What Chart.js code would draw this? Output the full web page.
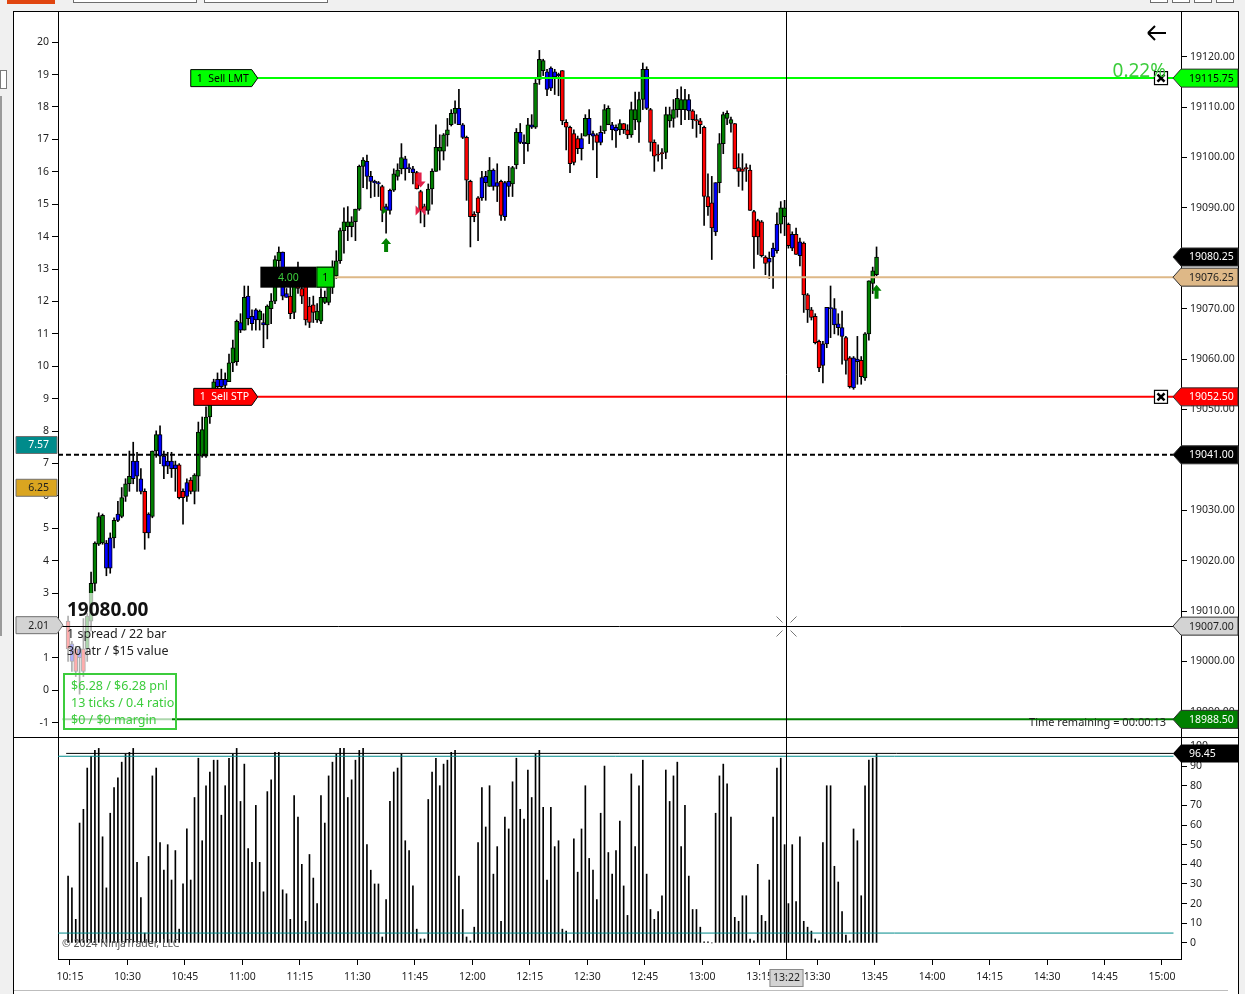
<!DOCTYPE html>
<html>
<head>
<meta charset="utf-8">
<title>NQ 1 spread / 22 bar</title>
<script src="https://cdn.jsdelivr.net/npm/chart.js@4.4.1/dist/chart.umd.min.js"></script>
<style>
  html, body { margin: 0; padding: 0; background: #f0f0f0; }
  #wrap { position: relative; width: 1245px; height: 994px; overflow: hidden; background: #f0f0f0; }
  #panel { position: absolute; left: 13px; top: 11px; width: 1224px; height: 990px; background: #fff; border: 1px solid #000; }
  #split { position: absolute; left: 14px; top: 737px; width: 1224px; height: 1px; background: #000; }
  #scroll { position: absolute; left: 14px; top: 990px; width: 1214px; height: 1px; background: #bdbdbd; }
  .tb { position: absolute; top: -3px; height: 4px; border: 1px solid #6d6d6d; background: #fff; }
  .side { position: absolute; background: #9a9a9a; }
  canvas { position: absolute; left: 0; top: 0; }
</style>
</head>
<body>
<div id="wrap">
  <div style="position:absolute;left:7px;top:0;width:48px;height:4px;background:#e0450f"></div>
  <div class="tb" style="left:73px;width:122px"></div>
  <div class="tb" style="left:204px;width:122px"></div>
  <div class="tb" style="left:1150px;width:16px"></div>
  <div class="tb" style="left:1172px;width:16px"></div>
  <div class="tb" style="left:1194px;width:16px"></div>
  <div class="tb" style="left:1216px;width:16px"></div>
  <div style="position:absolute;left:0;top:70px;width:5px;height:17px;border:1px solid #7a7a7a;background:#fff"></div>
  <div class="side" style="left:0;top:96px;width:2px;height:540px"></div>
  <div id="panel"></div>
  <div id="split"></div>
  <div id="scroll"></div>
  <canvas id="osc" width="1245" height="994"></canvas>
  <canvas id="price" width="1245" height="994"></canvas>
</div>
<script>
// one bar per minute, first bar at 10:14:30 (minutes after midnight)
const firstBarMinute = 614.5;
const viewStart = 611.87;
const viewEnd = 904.96;

const opens = [
  19008, 19003.5, 19002.5, 19002.5, 19002.5, 19002.5, 19008, 19015.5, 19023.25, 19023.5,
  19023.5, 19024.5, 19024.5, 19029.25, 19028.75, 19032.75, 19035.25, 19039.75, 19039.75, 19036.25,
  19033.75, 19025.5, 19028.75, 19041.75, 19045, 19040.75, 19039.75, 19039.75, 19039, 19039,
  19033.75, 19035.5, 19036, 19033.75, 19036.75, 19040.75, 19040.75, 19048.5, 19052.5, 19056,
  19056, 19056, 19055.5, 19059.25, 19059.5, 19067.25, 19065.75, 19072.5, 19068.5, 19069.75,
  19067.75, 19067.25, 19066.75, 19070, 19071.5, 19079.5, 19081.25, 19073, 19072.5, 19069.25,
  19076, 19074, 19075, 19070.5, 19070.75, 19067.75, 19067.5, 19071.25, 19071.25, 19074.25,
  19076.5, 19079.5, 19085.5, 19086.25, 19086.25, 19087.25, 19089.75, 19098.25, 19099.25, 19096.25,
  19095.25, 19095, 19094.25, 19090.25, 19093.5, 19093.5, 19096.25, 19097.75, 19099.75, 19098,
  19097.75, 19097, 19093.25, 19090.25, 19089.5, 19093.75, 19097.25, 19101.25, 19101.25, 19104.5,
  19106.5, 19108.75, 19109.75, 19106.5, 19104, 19095.25, 19088.75, 19092, 19096, 19096.25,
  19094.25, 19097.5, 19095, 19095.25, 19095, 19095.25, 19094.75, 19098.5, 19105, 19103,
  19102.75, 19106.5, 19106, 19115.5, 19117.25, 19117, 19117.75, 19117, 19116.5, 19117.25,
  19107, 19106, 19104.75, 19103.75, 19103.75, 19104.25, 19107.75, 19104.75, 19104.5, 19105,
  19105.25, 19106.5, 19106.5, 19106, 19105.5, 19106.75, 19105.5, 19104.5, 19107.5, 19107,
  19111.5, 19117.5, 19109.5, 19103, 19100.5, 19100.75, 19101, 19107.25, 19107.75, 19109.5,
  19109.5, 19109.5, 19111.5, 19109.25, 19107.5, 19107.25, 19106, 19092.25, 19091, 19095,
  19095, 19102.75, 19107.75, 19106.75, 19106.75, 19098, 19097.75, 19098, 19097.5, 19089.25,
  19087.5, 19087.25, 19080.25, 19080, 19082, 19086.75, 19086.75, 19088.25, 19086.75, 19084.75,
  19084.75, 19083.25, 19083, 19072.75, 19069.75, 19068.5, 19063.5, 19063, 19070.25, 19070,
  19070, 19067, 19066.25, 19064.25, 19060.25, 19060.25, 19060, 19059.75, 19056.25, 19065,
  19075, 19076.75
];
const highs = [
  19009, 19004, 19003, 19003, 19008.5, 19009.5, 19017.75, 19023.75, 19029.5, 19029.25,
  19024, 19025.5, 19028.5, 19031.75, 19034.5, 19036.25, 19041.75, 19043.5, 19041.5, 19038.25,
  19034.25, 19029.5, 19041.75, 19045.75, 19046.75, 19041.75, 19041.5, 19041.5, 19039.75, 19039.25,
  19034.25, 19036.25, 19036.5, 19037.25, 19047.5, 19048.5, 19050.5, 19053.75, 19056, 19057.25,
  19058, 19057.25, 19061, 19063.75, 19067.75, 19069, 19074.5, 19074.5, 19069.75, 19070,
  19069.75, 19069, 19070.75, 19073, 19080.5, 19082.25, 19081.25, 19074, 19074.25, 19077.25,
  19079.25, 19076, 19075.25, 19072.25, 19072.5, 19071, 19074, 19073.5, 19074.5, 19079.5,
  19081.5, 19086, 19090, 19090.25, 19088.25, 19089.75, 19098.5, 19100, 19100.5, 19097.25,
  19095.5, 19095.25, 19094.5, 19090.75, 19093.75, 19097.75, 19098.75, 19102.75, 19100.25, 19098.75,
  19098.25, 19097.25, 19093.5, 19090.75, 19094.75, 19097.75, 19106.5, 19104.5, 19104.75, 19107.75,
  19109.5, 19111.25, 19113.5, 19106.75, 19104.25, 19095.5, 19089.25, 19092.25, 19097.25, 19097.25,
  19100, 19097.75, 19098.75, 19095.5, 19095.25, 19098.25, 19098.25, 19105.75, 19106.75, 19104.5,
  19107.75, 19108.5, 19115.5, 19121.25, 19119.5, 19117.5, 19118, 19117.5, 19116.75, 19117.25,
  19107.5, 19106.25, 19105.5, 19104.25, 19104.75, 19108.5, 19109.5, 19105.25, 19104.75, 19106.25,
  19110.5, 19110.25, 19107, 19106.5, 19107.5, 19106.75, 19106.5, 19111, 19113, 19113,
  19118.75, 19118, 19109.75, 19103.5, 19102.5, 19101.75, 19110, 19110, 19111.5, 19113.5,
  19114, 19113.5, 19112.5, 19109.5, 19108.5, 19107.75, 19106.25, 19096.75, 19096.25, 19095,
  19104.75, 19109, 19109.25, 19108, 19106.75, 19100.75, 19100.75, 19098.75, 19098.5, 19089.5,
  19087.75, 19087.5, 19080.5, 19081.25, 19083, 19089, 19091.25, 19091.5, 19087, 19085.25,
  19086, 19084, 19083.25, 19073, 19070.25, 19069, 19063.75, 19063.5, 19070.25, 19074.5,
  19072, 19069, 19069.5, 19064.5, 19060.5, 19060.5, 19064.5, 19060.5, 19065.25, 19075.5,
  19078.25, 19082.25
];
const lows = [
  19000, 18998, 18997, 18993.5, 18997, 19000, 19006, 19014, 19023, 19023.25,
  19017, 19017.5, 19022.5, 19027.75, 19028.5, 19031.75, 19033.75, 19035.25, 19033.75, 19033.25,
  19022.25, 19024.5, 19028.5, 19040.5, 19039.25, 19036.25, 19037.25, 19036.5, 19033.75, 19032.25,
  19027.25, 19031.75, 19033.25, 19031.25, 19033.75, 19040.5, 19040.5, 19047.25, 19052, 19053.75,
  19053.75, 19054.25, 19055.5, 19057.5, 19058.75, 19065.25, 19065.75, 19066.75, 19065.75, 19065.75,
  19065.75, 19062.25, 19064, 19067, 19071, 19078.25, 19071.75, 19072.25, 19068, 19068,
  19073, 19071, 19066.75, 19066.25, 19067.25, 19067.25, 19067, 19071, 19070.75, 19073,
  19076, 19079, 19081, 19083.5, 19084.25, 19083.5, 19089.5, 19094, 19093.75, 19092,
  19092.25, 19092.25, 19087.25, 19085, 19088.75, 19093.25, 19095.5, 19096.75, 19095.5, 19097,
  19094.75, 19093.75, 19087, 19086.25, 19088.75, 19090.75, 19097.25, 19097.5, 19099.5, 19102.25,
  19106.25, 19106.75, 19106.5, 19103.75, 19091.5, 19082.25, 19087.25, 19083.5, 19091.5, 19091.5,
  19094.25, 19093.5, 19091.25, 19087.5, 19087.5, 19092.25, 19092.25, 19097.75, 19102.75, 19098.75,
  19101.25, 19105.75, 19105.75, 19114.5, 19116.25, 19112.25, 19113.25, 19112.5, 19112.25, 19106.5,
  19101.5, 19097, 19098.5, 19100.75, 19099.5, 19104.25, 19102.75, 19101.5, 19096, 19102.5,
  19104.75, 19106.5, 19103.5, 19102, 19104.5, 19104.75, 19103.75, 19104, 19105.5, 19103,
  19109.5, 19109.5, 19101.25, 19097.25, 19099.25, 19097.75, 19099.75, 19106, 19106, 19108,
  19106.5, 19107.5, 19107.5, 19105.75, 19104, 19104.75, 19086.5, 19088.5, 19079.75, 19084.5,
  19093, 19100.75, 19106.5, 19105, 19097.75, 19094.25, 19093.5, 19095.25, 19089.5, 19078,
  19080.75, 19080.25, 19076.75, 19076, 19074, 19081, 19085, 19084.5, 19082, 19081.5,
  19080.75, 19078.5, 19069.25, 19067.25, 19067.75, 19063, 19057.5, 19055.25, 19062.25, 19064.25,
  19065, 19064.75, 19059, 19057, 19054.25, 19054, 19055, 19055, 19055.75, 19063.75,
  19073, 19076.5
];
const closes = [
  19002.5, 19000, 18998, 19000.75, 18998, 19009, 19015.5, 19023.5, 19028.75, 19029,
  19018.5, 19018.5, 19028, 19028, 19032.5, 19035.25, 19036.75, 19036.25, 19036.75, 19033.75,
  19025.5, 19029.25, 19041.75, 19045, 19040.75, 19038.75, 19038.75, 19038.25, 19038.25, 19032.5,
  19032.5, 19032.75, 19033.75, 19037, 19045.5, 19046, 19048.5, 19053.5, 19055.5, 19054.5,
  19054.5, 19054.75, 19059.25, 19062.25, 19067.5, 19065.75, 19072.25, 19068, 19067, 19067.75,
  19069.5, 19066.75, 19070.5, 19071.5, 19079.75, 19081.25, 19072.5, 19072.25, 19069, 19076.25,
  19074, 19072.5, 19067.75, 19067.25, 19069.25, 19069.5, 19072.25, 19072.25, 19074.5, 19077.75,
  19079.5, 19085.5, 19087.25, 19087.25, 19087.25, 19089.75, 19098.25, 19099.5, 19096.25, 19095.25,
  19095, 19094.75, 19089.5, 19089.5, 19089.5, 19096.75, 19097.5, 19100, 19097.75, 19097.75,
  19097, 19093.75, 19089.5, 19089.5, 19093.75, 19097.25, 19102, 19102, 19104.5, 19105.5,
  19108.75, 19109.75, 19106.5, 19104, 19095.5, 19088.25, 19088.25, 19089, 19092, 19095,
  19097.5, 19094.25, 19094.25, 19088.5, 19088.25, 19094.25, 19098, 19105, 19103, 19102.75,
  19106.5, 19106, 19114.75, 19119.5, 19119.25, 19113.5, 19113.75, 19116, 19116.25, 19107.25,
  19106, 19098.75, 19099, 19101.75, 19101.75, 19107.75, 19104.5, 19104.25, 19103, 19103,
  19109.5, 19109.75, 19105.5, 19105.25, 19106.75, 19105.5, 19104.5, 19109.5, 19109.5, 19111.5,
  19117.5, 19109.75, 19103, 19100.25, 19100.5, 19100.75, 19108.5, 19108.5, 19109.5, 19111.75,
  19111.5, 19111.5, 19109.25, 19107.5, 19107.25, 19106.5, 19092.25, 19090.25, 19086, 19085.25,
  19102.75, 19108.5, 19108.75, 19107.5, 19097.75, 19097.25, 19097.25, 19097.75, 19089.5, 19084.25,
  19084.25, 19080.5, 19079, 19079.25, 19080.25, 19081.5, 19090, 19090, 19082.5, 19082,
  19080.75, 19080.5, 19072.75, 19069.75, 19068.25, 19063.25, 19058.25, 19058.75, 19063, 19070,
  19066.75, 19066.25, 19064.5, 19059.75, 19054.5, 19054.25, 19059.5, 19056.5, 19065, 19075.5,
  19077.5, 19080.25
];
// bar paint: g = up, r = down, b = neutral/trend bar
const candleTone = (
  'rbrbrg' + 'gggg' + 'bb' + 'g' + 'b' + 'ggg' + 'bbb' + 'r' + 'b' + 'gg' + 'bbbbb' + 'rr' + 'b' + 'r' +
  'gggggg' + 'bbb' + 'ggg' + 'b' + 'g' + 'bbb' + 'g' + 'b' + 'gggg' + 'bb' + 'r' + 'g' + 'rrrrr' +
  'ggggggggggggg' + 'bbbb' + 'r' + 'bb' + 'ggg' + 'bbb' + 'rrr' + 'gggggggg' + 'bb' + 'rrrr' + 'bb' +
  'g' + 'bb' + 'r' + 'bb' + 'gg' + 'bb' + 'g' + 'b' + 'ggg' + 'bbbb' + 'rrrrr' + 'b' + 'g' + 'bb' + 'r' +
  'b' + 'gg' + 'bb' + 'g' + 'rr' + 'gggg' + 'b' + 'rrrr' + 'gggggg' + 'b' + 'rrrrrr' + 'b' + 'gggg' +
  'rrrrrrrrr' + 'bbb' + 'gg' + 'r' + 'b' + 'r' + 'b' + 'rrrrr' + 'bbbbbb' + 'rr' + 'bb' + 'r' + 'gggg'
).split('');

// lower panel oscillator, one value per bar
const oscValues = [
  34, 28, 12, 61, 68, 89, 95, 98, 99, 54,
  28, 66, 79, 84, 92, 96, 97, 99, 41, 23,
  5, 44, 85, 89, 51, 37, 50, 32, 47, 7,
  30, 58, 32, 74, 94, 52, 80, 87, 93, 93,
  65, 80, 94, 96, 99, 72, 91, 48, 41, 70,
  41, 26, 77, 83, 97, 97, 27, 25, 12, 75,
  64, 40, 11, 45, 33, 20, 75, 61, 85, 92,
  96, 99, 99, 74, 83, 93, 98, 99, 50, 37,
  30, 30, 3, 22, 72, 87, 89, 96, 52, 47,
  29, 7, 2, 2, 73, 87, 94, 80, 91, 93,
  97, 98, 34, 17, 3, 1, 8,
  51, 79, 59, 80, 35, 49, 11, 64, 58, 82,
  94, 68, 63, 88, 74, 96, 98, 69, 32, 69,
  49, 52, 7, 6, 1, 53, 36, 58, 80, 43,
  37, 22, 66, 90, 46, 35, 47, 62, 29, 14,
  86, 49, 80, 93, 35, 17, 12, 16, 24, 88,
  72, 85, 92, 49, 70, 34, 17, 17, 8, 0.5,
  0.5, 0, 66, 85, 91, 81, 64, 13, 11, 24,
  24, 2, 1, 40, 14, 11, 32, 64, 89, 94,
  50, 20, 50, 21, 54, 11, 8, 6, 2, 1,
  51, 80, 80, 39, 31, 16, 4, 1, 58, 52,
  24, 80, 93, 94, 96.45
];

// working orders, position and reference levels
const sellLimit = 19115.75;
const sellStop = 19052.50;
const orderMinute = 664;       // order tags end here
const positionAvg = 19076.25;
const positionMinute = 684;
const lastPrice = 19080.25;
const priorLevel = 19041.00;
const sessionLow = 18988.50;
const crossMinute = 802;       // 13:22
const crossPrice = 19007.00;
const crossLevel = 2.01;
const leftMarks = [7.57, 6.25];
const oscLast = 96.45;
const oscBands = [95, 5];
const signals = [
  { bar: 82, price: 19089.5, kind: 'tri' },
  { bar: 83, price: 19084.0, kind: 'up' },
  { bar: 92, price: 19097.0, kind: 'down' },
  { bar: 92, price: 19089.5, kind: 'bow' },
  { bar: 211, price: 19074.75, kind: 'up' }
];

const FONT = "'Noto Sans', 'DejaVu Sans', sans-serif";
Chart.defaults.font.family = FONT;
Chart.defaults.font.size = 10.5;
Chart.defaults.color = '#1e1e1e';

const toneColor = { g: '#008000', r: '#ff0000', b: '#0000ff' };
const barX = i => firstBarMinute + i;
const hhmm = v => { const m = Math.round(v); return Math.floor(m / 60) + ':' + String(m % 60).padStart(2, '0'); };

const wickData = highs.map((h, i) => ({ x: barX(i), y: [lows[i], h] }));
const bodyData = opens.map((o, i) => ({ x: barX(i), y: [o, closes[i]] }));
const bodyFill = candleTone.map(c => toneColor[c]);
const oscData = oscValues.map((v, i) => ({ x: barX(i), y: v }));

function sideAxis(pos, min, max, step, fmt) {
  return {
    type: 'linear', position: pos, min, max, offset: false,
    afterFit: s => { s.width = pos === 'left' ? 44 : 57; },
    border: { display: true, color: '#000', width: 1 },
    grid: { drawOnChartArea: false, tickLength: 6, color: '#000' },
    ticks: { stepSize: step, includeBounds: false, maxTicksLimit: 200, autoSkip: false, padding: 3, callback: fmt }
  };
}

function hLine(x0, x1, y, color, width, dash) {
  return {
    type: 'line', data: [{ x: x0, y }, { x: x1, y }], borderColor: color, borderWidth: width,
    borderDash: dash || [], pointRadius: 0, fill: false, yAxisID: 'price', order: 0
  };
}

function tagRight(ctx, area, y, text, fill, ink) {
  const r = area.right;
  ctx.beginPath();
  ctx.moveTo(r - 8, y); ctx.lineTo(r, y - 9); ctx.lineTo(r + 57, y - 9);
  ctx.lineTo(r + 57, y + 9); ctx.lineTo(r, y + 9); ctx.closePath();
  ctx.fillStyle = fill; ctx.fill();
  ctx.strokeStyle = '#303030'; ctx.lineWidth = 1; ctx.stroke();
  ctx.fillStyle = ink; ctx.font = '10.5px ' + FONT;
  ctx.textAlign = 'left'; ctx.textBaseline = 'middle';
  ctx.fillText(text, r + 8, y + 0.5);
}

function tagLeft(ctx, area, y, text, fill, ink, pointer) {
  const l = area.left;
  ctx.beginPath();
  ctx.moveTo(16, y - 8.5); ctx.lineTo(l - 1, y - 8.5);
  if (pointer) ctx.lineTo(l + 5, y);
  ctx.lineTo(l - 1, y + 8.5); ctx.lineTo(16, y + 8.5); ctx.closePath();
  ctx.fillStyle = fill; ctx.fill();
  ctx.strokeStyle = '#707070'; ctx.lineWidth = 1; ctx.stroke();
  ctx.fillStyle = ink; ctx.font = '10.5px ' + FONT;
  ctx.textAlign = 'right'; ctx.textBaseline = 'middle';
  ctx.fillText(text, l - 9, y + 0.5);
}

function closeBox(ctx, x, y) {
  ctx.fillStyle = '#fff'; ctx.fillRect(x, y - 7, 14, 14);
  ctx.strokeStyle = '#000'; ctx.lineWidth = 1.2; ctx.strokeRect(x + 0.5, y - 6.5, 13, 13);
  ctx.lineWidth = 2.6; ctx.beginPath();
  ctx.moveTo(x + 3.5, y - 3.5); ctx.lineTo(x + 10.5, y + 3.5);
  ctx.moveTo(x + 10.5, y - 3.5); ctx.lineTo(x + 3.5, y + 3.5); ctx.stroke();
}

function orderTag(ctx, xEnd, y, w, text, fill, ink) {
  ctx.beginPath();
  ctx.moveTo(xEnd - w, y - 8.5); ctx.lineTo(xEnd - 6, y - 8.5); ctx.lineTo(xEnd, y);
  ctx.lineTo(xEnd - 6, y + 8.5); ctx.lineTo(xEnd - w, y + 8.5); ctx.closePath();
  ctx.fillStyle = fill; ctx.fill();
  ctx.strokeStyle = '#000'; ctx.lineWidth = 1; ctx.stroke();
  ctx.fillStyle = ink; ctx.font = '10.5px ' + FONT;
  ctx.textAlign = 'left'; ctx.textBaseline = 'middle';
  ctx.fillText(text, xEnd - w + 6, y + 0.5);
}

function drawSignal(ctx, kind, x, y) {
  if (kind === 'up') {
    ctx.fillStyle = '#008000';
    ctx.beginPath();
    ctx.moveTo(x, y); ctx.lineTo(x + 5, y + 6); ctx.lineTo(x + 2, y + 6); ctx.lineTo(x + 2, y + 14);
    ctx.lineTo(x - 2, y + 14); ctx.lineTo(x - 2, y + 6); ctx.lineTo(x - 5, y + 6); ctx.closePath(); ctx.fill();
  } else if (kind === 'down') {
    ctx.fillStyle = '#e0204a';
    ctx.beginPath();
    ctx.moveTo(x - 3, y); ctx.lineTo(x + 1, y); ctx.lineTo(x + 1, y + 9); ctx.lineTo(x + 5, y + 9);
    ctx.lineTo(x, y + 15); ctx.lineTo(x - 5, y + 9); ctx.lineTo(x - 3, y + 9); ctx.closePath(); ctx.fill();
  } else if (kind === 'bow') {
    ctx.fillStyle = '#e0204a';
    ctx.beginPath();
    ctx.moveTo(x - 5, y - 5); ctx.lineTo(x, y); ctx.lineTo(x - 5, y + 5); ctx.closePath();
    ctx.moveTo(x + 5, y - 5); ctx.lineTo(x, y); ctx.lineTo(x + 5, y + 5); ctx.closePath(); ctx.fill();
  } else {
    ctx.fillStyle = '#008000';
    ctx.beginPath();
    ctx.moveTo(x, y - 4); ctx.lineTo(x + 5, y); ctx.lineTo(x, y + 4); ctx.closePath(); ctx.fill();
  }
}

const priceDecor = {
  id: 'priceDecor',
  afterDraw(chart) {
    const { ctx, chartArea: a, scales } = chart;
    const px = m => scales.x.getPixelForValue(m);
    const py = p => scales.price.getPixelForValue(p);
    const pl = v => scales.level.getPixelForValue(v);
    ctx.save();

    signals.forEach(s => drawSignal(ctx, s.kind, px(barX(s.bar)), py(s.price)));

    // info panel washes out what sits beneath it
    ctx.fillStyle = 'rgba(255,255,255,0.68)';
    ctx.fillRect(a.left + 4, 593, 110, a.bottom - 595);

    // order and position tags
    const xo = px(orderMinute);
    orderTag(ctx, xo, py(sellLimit), 67, '1  Sell LMT', '#00ff00', '#000');
    orderTag(ctx, xo, py(sellStop), 64, '1  Sell STP', '#ff0000', '#fff');
    const xp = px(positionMinute), yp = py(positionAvg);
    ctx.fillStyle = '#000'; ctx.fillRect(xp - 74, yp - 10.5, 56, 21);
    ctx.fillStyle = '#00dd00'; ctx.fillRect(xp - 18, yp - 10.5, 18, 21);
    ctx.strokeStyle = '#000'; ctx.lineWidth = 1; ctx.strokeRect(xp - 17.5, yp - 10, 17, 20);
    ctx.font = '10.5px ' + FONT; ctx.textAlign = 'center'; ctx.textBaseline = 'middle';
    ctx.fillStyle = '#3ccc3c'; ctx.fillText('4.00', xp - 46, yp + 0.5);
    ctx.fillStyle = '#000'; ctx.fillText('1', xp - 9, yp + 0.5);

    // info text
    ctx.textAlign = 'left'; ctx.textBaseline = 'alphabetic';
    ctx.fillStyle = '#111'; ctx.font = 'bold 19px ' + FONT;
    ctx.fillText('19080.00', 67, 616);
    ctx.font = '12.5px ' + FONT; ctx.fillStyle = '#222';
    ctx.fillText('1 spread / 22 bar', 67, 638);
    ctx.fillText('30 atr / $15 value', 67, 655);
    ctx.strokeStyle = '#3ccc3c'; ctx.lineWidth = 2; ctx.strokeRect(64, 674, 112, 55);
    ctx.fillStyle = '#3ccc3c';
    ctx.fillText('$6.28 / $6.28 pnl', 71, 690);
    ctx.fillText('13 ticks / 0.4 ratio', 71, 707);
    ctx.fillText('$0 / $0 margin', 71, 724);

    // crosshair
    const xc = Math.round(px(crossMinute)) + 0.5, yc = Math.round(py(crossPrice)) + 0.5;
    ctx.strokeStyle = '#000'; ctx.lineWidth = 1;
    ctx.beginPath();
    ctx.moveTo(xc, a.top); ctx.lineTo(xc, a.bottom);
    ctx.moveTo(a.left, yc); ctx.lineTo(a.right, yc);
    ctx.stroke();
    ctx.strokeStyle = '#777';
    ctx.beginPath();
    [[-1, -1], [1, -1], [1, 1], [-1, 1]].forEach(([dx, dy]) => {
      ctx.moveTo(xc + dx * 4, yc + dy * 4); ctx.lineTo(xc + dx * 10, yc + dy * 10);
    });
    ctx.stroke();

    // right side price tags
    closeBox(ctx, a.right - 27, py(sellLimit));
    closeBox(ctx, a.right - 27, py(sellStop));
    tagRight(ctx, a, py(sellLimit), sellLimit.toFixed(2), '#00ff00', '#000');
    tagRight(ctx, a, py(lastPrice), lastPrice.toFixed(2), '#000', '#fff');
    tagRight(ctx, a, py(positionAvg), positionAvg.toFixed(2), '#deb887', '#1e1e1e');
    tagRight(ctx, a, py(sellStop), sellStop.toFixed(2), '#ff0000', '#fff');
    tagRight(ctx, a, py(priorLevel), priorLevel.toFixed(2), '#000', '#fff');
    tagRight(ctx, a, py(crossPrice), crossPrice.toFixed(2), '#d3d3d3', '#1e1e1e');
    tagRight(ctx, a, py(sessionLow), sessionLow.toFixed(2), '#008000', '#fff');

    // left side indicator tags
    tagLeft(ctx, a, pl(leftMarks[0]), leftMarks[0].toFixed(2), '#008b8b', '#fff', false);
    tagLeft(ctx, a, pl(leftMarks[1]), leftMarks[1].toFixed(2), '#daa520', '#1e1e1e', false);
    tagLeft(ctx, a, pl(crossLevel), crossLevel.toFixed(2), '#d3d3d3', '#1e1e1e', true);

    // PnL percent, back arrow, timer
    ctx.fillStyle = '#3ccc3c'; ctx.font = '19px ' + FONT; ctx.textAlign = 'right';
    ctx.fillText('0.22%', a.right - 15, py(sellLimit) - 7);
    ctx.strokeStyle = '#000'; ctx.lineWidth = 2;
    ctx.beginPath();
    ctx.moveTo(a.right - 33, 33); ctx.lineTo(a.right - 15, 33);
    ctx.moveTo(a.right - 33, 33); ctx.lineTo(a.right - 26, 26);
    ctx.moveTo(a.right - 33, 33); ctx.lineTo(a.right - 26, 40);
    ctx.stroke();
    ctx.fillStyle = '#1e1e1e'; ctx.font = '11px ' + FONT; ctx.textBaseline = 'middle';
    ctx.fillText('Time remaining = 00:00:13', a.right - 15, py(sessionLow) + 3);
    ctx.restore();
  }
};

const oscDecor = {
  id: 'oscDecor',
  afterDraw(chart) {
    const { ctx, chartArea: a, scales } = chart;
    const xc = Math.round(scales.x.getPixelForValue(crossMinute)) + 0.5;
    ctx.save();
    ctx.strokeStyle = '#000'; ctx.lineWidth = 1;
    ctx.beginPath(); ctx.moveTo(xc, a.top); ctx.lineTo(xc, a.bottom); ctx.stroke();
    ctx.fillStyle = '#555'; ctx.font = '10.5px ' + FONT;
    ctx.textAlign = 'left'; ctx.textBaseline = 'middle';
    ctx.fillText('\u00a9 2024 NinjaTrader, LLC', a.left + 4, a.bottom - 15);
    // time tag on the axis
    ctx.fillStyle = '#d3d3d3'; ctx.fillRect(xc - 17, a.bottom + 10, 34, 18);
    ctx.strokeStyle = '#8a8a8a'; ctx.strokeRect(xc - 16.5, a.bottom + 10.5, 33, 17);
    ctx.fillStyle = '#1e1e1e'; ctx.textAlign = 'center';
    ctx.fillText(hhmm(crossMinute), xc, a.bottom + 19.5);
    const y = scales.osc.getPixelForValue(oscLast);
    ctx.beginPath();
    ctx.moveTo(a.right - 8, y); ctx.lineTo(a.right, y - 9); ctx.lineTo(a.right + 57, y - 9);
    ctx.lineTo(a.right + 57, y + 9); ctx.lineTo(a.right, y + 9); ctx.closePath();
    ctx.fillStyle = '#000'; ctx.fill();
    ctx.fillStyle = '#fff'; ctx.textAlign = 'left';
    ctx.fillText(oscLast.toFixed(2), a.right + 8, y + 0.5);
    ctx.restore();
  }
};

new Chart(document.getElementById('price'), {
  type: 'bar',
  data: {
    datasets: [
      hLine(orderMinute, viewEnd, sellLimit, '#00ff00', 2),
      hLine(orderMinute, viewEnd, sellStop, '#ff0000', 2),
      hLine(positionMinute, viewEnd, positionAvg, '#deb887', 2),
      hLine(viewStart, viewEnd, priorLevel, '#000', 2, [5, 3]),
      hLine(613.0, viewEnd, sessionLow, '#008000', 2),
      {
        label: 'bodies', data: bodyData, backgroundColor: bodyFill, borderColor: '#000',
        borderWidth: 1, borderSkipped: false, barThickness: 4, minBarLength: 1,
        grouped: false, yAxisID: 'price', order: 1
      },
      {
        label: 'wicks', data: wickData, backgroundColor: '#000', borderWidth: 0,
        barThickness: 1, grouped: false, yAxisID: 'price', order: 2
      }
    ]
  },
  options: {
    responsive: false, animation: false, events: [],
    layout: { padding: { left: 14, top: 12, right: 7, bottom: 257 } },
    plugins: { legend: { display: false }, tooltip: { enabled: false } },
    scales: {
      x: { type: 'linear', min: viewStart, max: viewEnd, offset: false, display: false, grid: { offset: false } },
      level: sideAxis('left', -1.44, 20.93, 1),
      price: sideAxis('right', 18985.0, 19128.87, 10, v => v.toFixed(2))
    }
  },
  plugins: [priceDecor]
});

new Chart(document.getElementById('osc'), {
  type: 'bar',
  data: {
    datasets: [
      { type: 'line', data: [{ x: 614, y: oscLast }, { x: 903, y: oscLast }], borderColor: '#000', borderWidth: 1, pointRadius: 0, yAxisID: 'osc', order: 0 },
      { type: 'line', data: [{ x: viewStart, y: oscBands[0] }, { x: 903, y: oscBands[0] }], borderColor: '#008b8b', borderWidth: 1, pointRadius: 0, yAxisID: 'osc', order: 0 },
      { type: 'line', data: [{ x: viewStart, y: oscBands[1] }, { x: 903, y: oscBands[1] }], borderColor: '#008b8b', borderWidth: 1, pointRadius: 0, yAxisID: 'osc', order: 0 },
      { label: 'osc', data: oscData, backgroundColor: '#000', borderWidth: 0, barThickness: 1, grouped: false, yAxisID: 'osc', order: 1 }
    ]
  },
  options: {
    responsive: false, animation: false, events: [],
    layout: { padding: { left: 14, top: 737, right: 7, bottom: 7 } },
    plugins: { legend: { display: false }, tooltip: { enabled: false } },
    scales: {
      x: {
        type: 'linear', position: 'bottom', min: viewStart, max: viewEnd, offset: false,
        afterFit: s => { s.height = 28; },
        border: { display: true, color: '#000' },
        grid: { drawOnChartArea: false, tickLength: 6, color: '#000', offset: false },
        ticks: { stepSize: 15, includeBounds: false, maxTicksLimit: 100, autoSkip: false, maxRotation: 0, padding: 6, callback: v => hhmm(v) }
      },
      edge: {
        type: 'linear', position: 'left', min: 0, max: 1,
        afterFit: s => { s.width = 44; },
        ticks: { display: false }, grid: { display: false },
        border: { display: true, color: '#000' }
      },
      osc: sideAxis('right', -8.2, 104.8, 10)
    }
  },
  plugins: [oscDecor]
});
</script>
</body>
</html>
